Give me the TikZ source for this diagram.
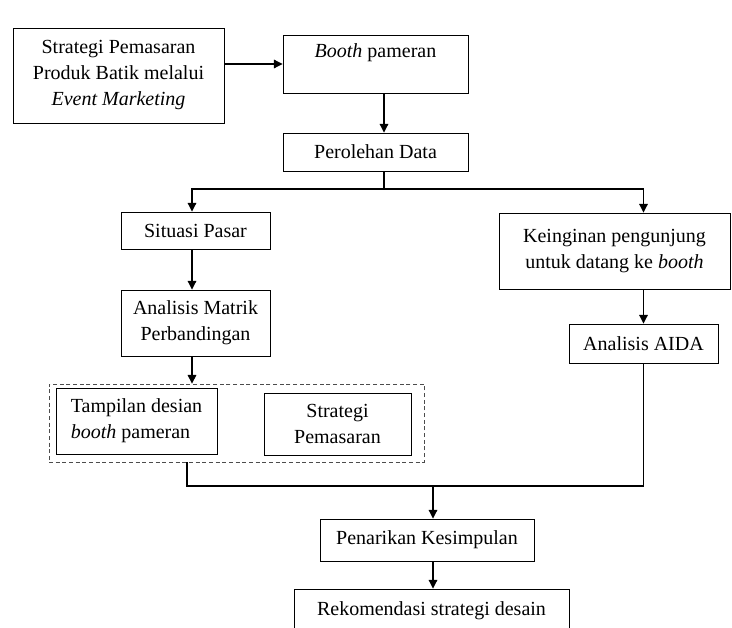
\documentclass[tikz,border=0pt]{standalone}
\usepackage{fontspec}
\setmainfont{Liberation Serif}
\usetikzlibrary{arrows.meta}
\newcommand{\pxu}{0.75pt}

\begin{document}
\begin{tikzpicture}[x=0.75pt, y=-0.75pt, >={Triangle[length=6.5pt,width=6.5pt]},
    every node/.style={font=\fontsize{15}{19.5}\selectfont},
    box/.style={draw, line width=0.7pt, align=center, inner sep=0pt},
    arrow/.style={line width=0.8pt, ->},
    wire/.style={line width=0.8pt}]
\clip (0,0) rectangle (732,628);

\node[box, minimum width=211*\pxu, minimum height=95*\pxu] (strat) at (118.5,75.5) {Strategi Pemasaran\\Produk Batik melalui\\\textit{Event Marketing}};
\node[box, minimum width=185*\pxu, minimum height=58*\pxu] (booth) at (375.5,64) {\textit{Booth} pameran\\ \mbox{}};
\node[box, minimum width=185*\pxu, minimum height=38*\pxu] (data) at (375.5,152) {Perolehan Data};
\node[box, minimum width=149*\pxu, minimum height=37*\pxu] (pasar) at (195.5,230.5) {Situasi Pasar};
\node[box, minimum width=149*\pxu, minimum height=66*\pxu] (matrik) at (195.5,323) {Analisis Matrik\\Perbandingan};
\node[box, minimum width=231*\pxu, minimum height=76*\pxu] (ingin) at (614.5,251) {Keinginan pengunjung\\untuk datang ke \textit{booth}};
\node[box, minimum width=149*\pxu, minimum height=39*\pxu] (aida) at (643.5,343.5) {Analisis AIDA};

% kelompok hasil analisis
\node[draw, dashed, dash pattern=on 3pt off 2pt, gray!60!black, line width=0.6pt, minimum width=375*\pxu, minimum height=78*\pxu] (group) at (236.5,423) {};
\node[box, align=left, minimum width=161*\pxu, minimum height=66*\pxu] (tampil) at (136.5,421) {Tampilan desian\\\textit{booth} pameran};
\node[box, minimum width=147*\pxu, minimum height=62*\pxu] (pemasaran) at (337.5,424) {Strategi\\Pemasaran};

\node[box, minimum width=214*\pxu, minimum height=42*\pxu] (simpul) at (427,540) {Penarikan Kesimpulan};
\node[box, minimum width=275*\pxu, minimum height=44*\pxu] (rekom) at (431.5,611) {Rekomendasi strategi desain};

\coordinate (split) at (384,189);
\coordinate (lcol) at (192,189);
\coordinate (back) at (187,486);
\coordinate (merge) at (433,486);

\draw[arrow] (strat.east |- booth) -- (booth.west);
\draw[arrow] (booth.south -| split) -- (data.north -| split);
\draw[wire] (data.south -| split) -- (split);
\draw[arrow] (split) -- (lcol) -- (lcol |- pasar.north);
\draw[arrow] (split) -| (aida |- ingin.north);
\draw[arrow] (pasar.south -| lcol) -- (matrik.north -| lcol);
\draw[arrow] (aida |- ingin.south) -- (aida);
\draw[arrow] (matrik.south -| lcol) -- (group.north -| lcol);
\draw[wire, line width=1.1pt] (group.south -| back) -- (back) -- (merge);
\draw[wire, line width=1.1pt] (aida.south) |- (merge);
\draw[arrow] (merge) -- (simpul.north -| merge);
\draw[arrow] (simpul.south -| merge) -- (rekom.north -| merge);
\end{tikzpicture}
\end{document}
